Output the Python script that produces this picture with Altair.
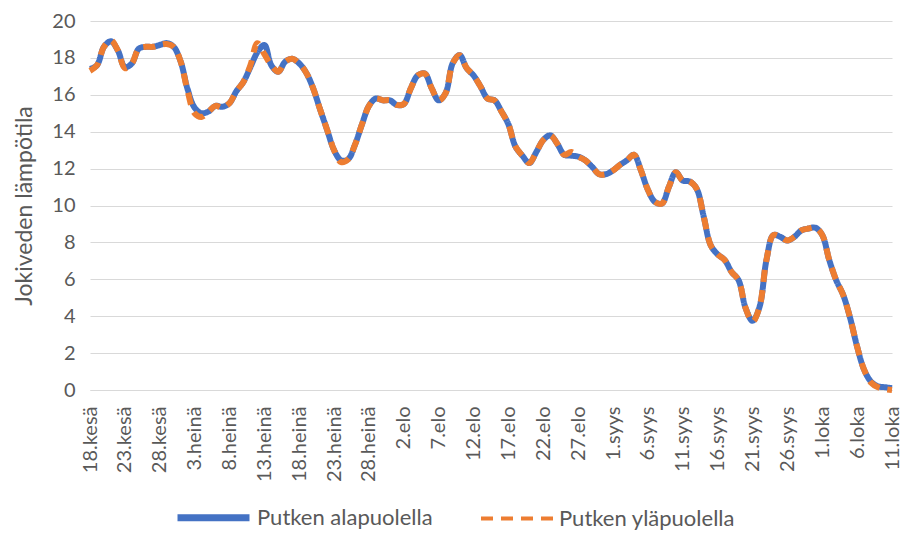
import altair as alt
import pandas as pd

month_names = ["kesä", "heinä", "elo", "syys", "loka"]
dates = pd.date_range("2021-06-18", "2021-10-11", freq="D")
day_labels = [f"{d.day}.{month_names[d.month - 6]}" for d in dates]

tick_labels = ["18.kesä", "23.kesä", "28.kesä", "3.heinä", "8.heinä", "13.heinä",
               "18.heinä", "23.heinä", "28.heinä", "2.elo", "7.elo", "12.elo",
               "17.elo", "22.elo", "27.elo", "1.syys", "6.syys", "11.syys",
               "16.syys", "21.syys", "26.syys", "1.loka", "6.loka", "11.loka"]

below = [17.4, 17.6, 18.6, 18.9, 18.4, 17.5, 17.7, 18.5, 18.6, 18.6,
         18.7, 18.8, 18.6, 17.8, 16.3, 15.3, 15.0, 15.1, 15.4, 15.35,
         15.55, 16.2, 16.7, 17.5, 18.3, 18.7, 17.6, 17.25, 17.8, 17.95,
         17.7, 17.2, 16.35, 15.2, 14.1, 13.0, 12.45, 12.5, 13.3, 14.4,
         15.4, 15.8, 15.7, 15.7, 15.45, 15.5, 16.35, 17.05, 17.15, 16.35,
         15.7, 16.1, 17.7, 18.15, 17.45, 17.05, 16.45, 15.8, 15.7, 15.1,
         14.4, 13.2, 12.7, 12.3, 12.9, 13.55, 13.8, 13.35, 12.75, 12.7,
         12.65, 12.45, 12.1, 11.7, 11.7, 11.9, 12.2, 12.45, 12.75, 11.9,
         10.85, 10.2, 10.1, 11.0, 11.8, 11.35, 11.3, 10.9, 9.4, 7.85,
         7.35, 7.05, 6.4, 5.95, 4.45, 3.75, 4.5, 7.05, 8.4, 8.3,
         8.1, 8.3, 8.65, 8.75, 8.8, 8.4, 7.05, 5.95, 5.15, 3.9,
         2.35, 1.1, 0.45, 0.2, 0.15, 0.1]

above = [17.3, 17.6, 18.6, 18.95, 18.4, 17.45, 17.7, 18.5, 18.6, 18.6,
         18.7, 18.75, 18.6, 17.8, 16.2, 15.0, 14.8, 15.1, 15.4, 15.3,
         15.55, 16.2, 16.7, 17.6, 18.8, 18.2, 17.6, 17.25, 17.8, 17.95,
         17.7, 17.2, 16.35, 15.2, 14.1, 13.0, 12.35, 12.5, 13.3, 14.4,
         15.4, 15.8, 15.7, 15.7, 15.45, 15.5, 16.35, 17.05, 17.15, 16.35,
         15.7, 16.1, 17.7, 18.15, 17.45, 17.05, 16.45, 15.8, 15.7, 15.1,
         14.4, 13.2, 12.7, 12.3, 12.9, 13.55, 13.8, 13.35, 12.75, 12.9,
         12.65, 12.45, 12.1, 11.7, 11.7, 11.9, 12.2, 12.45, 12.75, 11.9,
         10.85, 10.2, 10.1, 11.0, 11.8, 11.35, 11.3, 10.9, 9.4, 7.85,
         7.35, 7.05, 6.4, 5.95, 4.45, 3.7, 4.5, 7.05, 8.4, 8.3,
         8.1, 8.3, 8.65, 8.75, 8.8, 8.4, 7.05, 5.95, 5.15, 3.9,
         2.35, 1.1, 0.4, 0.15, 0.05, 0.0]

series_names = ["Putken alapuolella", "Putken yläpuolella"]
colors = ["#4472C4", "#ED7D31"]

df = pd.DataFrame({
    "day": day_labels + day_labels,
    "temp": below + above,
    "series": [series_names[0]] * len(below) + [series_names[1]] * len(above),
})

FONT = "Lato"
GREY = "#595959"

leg = dict(title=None, orient="none", legendX=84, legendY=457, direction="horizontal",
           symbolType="stroke", symbolSize=5184, symbolStrokeWidth=6,
           labelFontSize=22, labelColor=GREY, labelFont=FONT, labelLimit=400,
           columnPadding=40, labelOffset=4)

chart = alt.Chart(df).mark_line(interpolate="catmull-rom", strokeWidth=6).encode(
    x=alt.X("day:N", sort=day_labels,
            scale=alt.Scale(type="point", padding=0),
            axis=alt.Axis(values=tick_labels, labelAngle=-90, title=None, ticks=False,
                          grid=False, domainColor="#d9d9d9", domainWidth=1,
                          labelFont=FONT, labelFontSize=20, labelColor=GREY,
                          labelPadding=16)),
    y=alt.Y("temp:Q", scale=alt.Scale(domain=[0, 20], nice=False),
            axis=alt.Axis(values=list(range(0, 21, 2)), title="Jokiveden lämpötila",
                          titleFont=FONT, titleFontSize=23, titleColor=GREY,
                          titleFontWeight="normal", titlePadding=15,
                          labelFont=FONT, labelFontSize=20, labelColor=GREY,
                          ticks=False, domain=False, gridColor="#d9d9d9",
                          labelPadding=15)),
    color=alt.Color("series:N", scale=alt.Scale(domain=series_names, range=colors),
                    legend=alt.Legend(**leg)),
    strokeDash=alt.StrokeDash("series:N",
                              scale=alt.Scale(domain=series_names, range=[[1, 0], [12, 8]]),
                              legend=alt.Legend(**leg)),
    strokeWidth=alt.StrokeWidth("series:N",
                                scale=alt.Scale(domain=series_names, range=[7, 4]),
                                legend=None),
).properties(
    width=802, height=369,
    autosize=alt.AutoSizeParams(type="none"),
    padding={"left": 82, "top": 13, "right": 10, "bottom": 141}
).configure_view(stroke=None)

chart.save("out.html", embed_options={"renderer": "svg", "actions": False})
